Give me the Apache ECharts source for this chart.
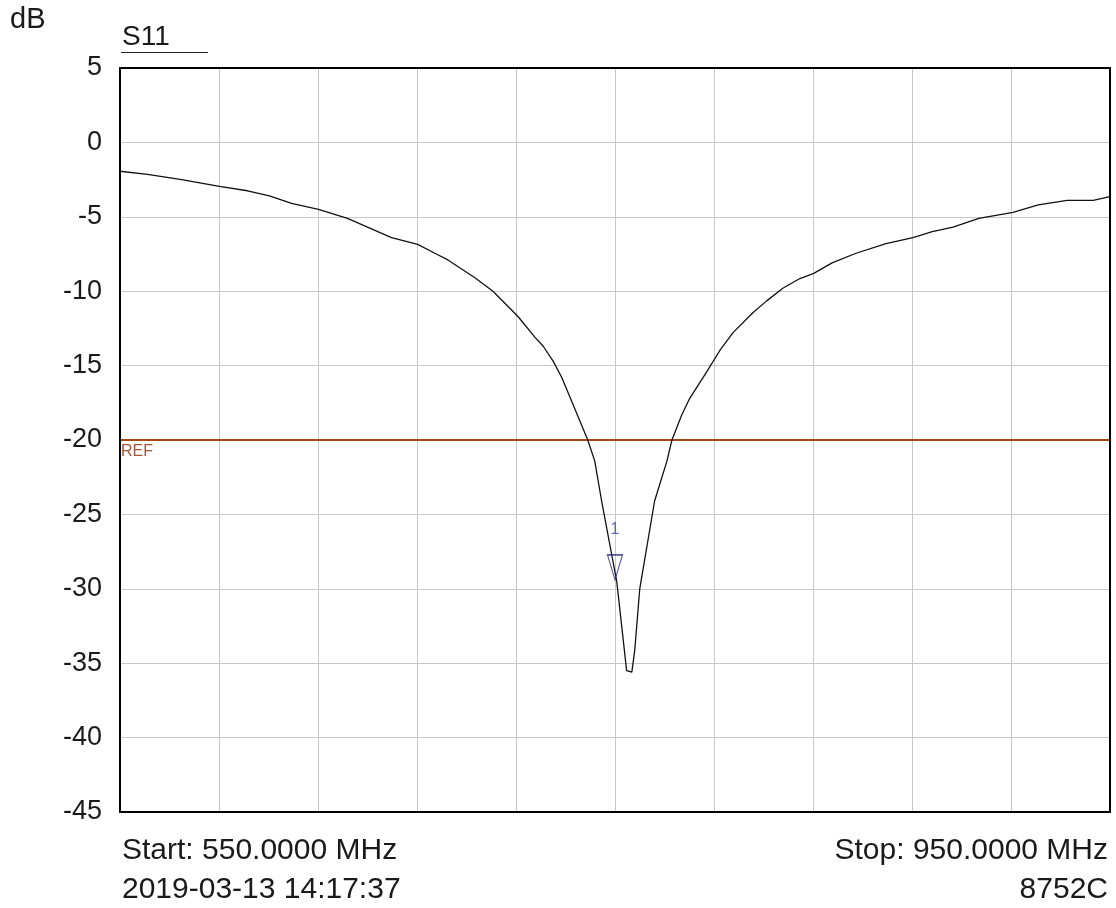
<!DOCTYPE html>
<html>
<head>
<meta charset="utf-8">
<script src="https://cdn.jsdelivr.net/npm/echarts@6/dist/echarts.min.js"></script>
<style>
html,body{margin:0;padding:0;background:#fff;}
#chart{width:1116px;height:908px;}
</style>
</head>
<body>
<div id="chart"></div>
<script>
// Frequency (MHz) of each read point
const freqs = [550, 561.1, 574.9, 590.2, 601.5, 610.4, 619.3, 630.2, 641.9, 650, 659.7, 670.3, 677.2, 682.5, 693.4, 700.7, 710.8, 717.7, 721, 725, 728.5, 733, 739, 741.8, 744.6, 750.7, 754.7, 756.8, 758, 760, 766, 771, 773, 777, 780.2, 787.1, 792.3, 797.6, 805.7, 811.3, 817.8, 824.7, 830.3, 837.7, 847.4, 859.5, 870.4, 878.2, 886.6, 897, 910.8, 921, 932.7, 943.2, 950];
// S11 magnitude (dB)
const s11 = [-1.94, -2.15, -2.5, -2.95, -3.25, -3.6, -4.1, -4.5, -5.1, -5.7, -6.4, -6.85, -7.45, -7.9, -9.1, -10.0, -11.7, -13.1, -13.7, -14.7, -15.8, -17.6, -20.0, -21.4, -24.1, -29.5, -35.5, -35.6, -34.1, -30.0, -24.1, -21.4, -20.0, -18.3, -17.2, -15.4, -14.0, -12.8, -11.45, -10.65, -9.8, -9.15, -8.8, -8.1, -7.45, -6.8, -6.4, -6.0, -5.7, -5.1, -4.7, -4.2, -3.9, -3.9, -3.65];
const refLevel = -20;
const markerFreq = 750;
const markerValue = -29.4;
const markerLabel = '1';
const yTicks = {min: -45, max: 5, step: 5};
const xRange = {min: 550, max: 950, step: 40};
const texts = {unit: 'dB', trace: 'S11', start: 'Start: 550.0000 MHz', stop: 'Stop: 950.0000 MHz', date: '2019-03-13 14:17:37', model: '8752C', ref: 'REF'};

const FONT = '"Liberation Sans", Arial, sans-serif';
const chart = echarts.init(document.getElementById('chart'), null, {renderer: 'canvas'});
const curve = freqs.map((f, i) => [f, s11[i]]);

chart.setOption({
  animation: false,
  backgroundColor: '#fff',
  grid: {left: 120, right: 6, top: 68, bottom: 96, show: false},
  xAxis: {
    type: 'value', min: xRange.min, max: xRange.max, interval: xRange.step,
    axisLine: {show: false}, axisTick: {show: false}, axisLabel: {show: false},
    splitLine: {show: true, lineStyle: {color: '#c8c8c8', width: 1}}
  },
  yAxis: {
    type: 'value', min: yTicks.min, max: yTicks.max, interval: yTicks.step,
    axisLine: {show: false}, axisTick: {show: false},
    axisLabel: {fontFamily: FONT, fontSize: 27, color: '#1a1a1a', margin: 18, padding: [3, 0, 0, 0]},
    splitLine: {show: true, lineStyle: {color: '#c8c8c8', width: 1}}
  },
  series: [
    {
      type: 'line', data: curve, symbol: 'none', smooth: false,
      lineStyle: {color: '#111', width: 1.3}, z: 5,
      markLine: {
        silent: true, symbol: 'none',
        lineStyle: {color: '#a5470f', width: 2.2, type: 'solid'},
        label: {show: false},
        data: [{yAxis: refLevel}]
      }
    },
    {
      type: 'scatter', data: [[markerFreq, markerValue]],
      symbol: 'path://M0,0 L16,0 L8,26 Z', symbolSize: [15, 25], symbolOffset: [0, '-50%'],
      itemStyle: {color: 'rgba(0,0,0,0)', borderColor: '#2c2c7e', borderWidth: 1.3},
      label: {show: true, position: 'top', distance: 16, formatter: markerLabel, color: '#2f4c9e', fontFamily: FONT, fontSize: 16},
      z: 6
    }
  ],
  graphic: [
    {type: 'rect', shape: {x: 120, y: 68, width: 990, height: 744}, style: {fill: 'none', stroke: '#000', lineWidth: 2}, z: 100, silent: true},
    {type: 'text', left: 10, top: 5, style: {text: texts.unit, font: '29px ' + FONT, fill: '#1a1a1a'}},
    {type: 'text', left: 122, top: 23, style: {text: texts.trace, font: '28px ' + FONT, fill: '#1a1a1a'}},
    {type: 'line', shape: {x1: 121, y1: 52.5, x2: 208, y2: 52.5}, style: {stroke: '#222', lineWidth: 1}},
    {type: 'text', left: 121, top: 444, style: {text: texts.ref, font: '16px ' + FONT, fill: '#a5563a'}},
    {type: 'text', left: 122, top: 836, style: {text: texts.start, font: '30px ' + FONT, fill: '#1a1a1a'}},
    {type: 'text', left: 122, top: 875, style: {text: texts.date, font: '30px ' + FONT, fill: '#1a1a1a'}},
    {type: 'text', right: 8, top: 836, style: {text: texts.stop, font: '30px ' + FONT, fill: '#1a1a1a'}},
    {type: 'text', right: 8, top: 875, style: {text: texts.model, font: '30px ' + FONT, fill: '#1a1a1a'}}
  ]
});
</script>
</body>
</html>
